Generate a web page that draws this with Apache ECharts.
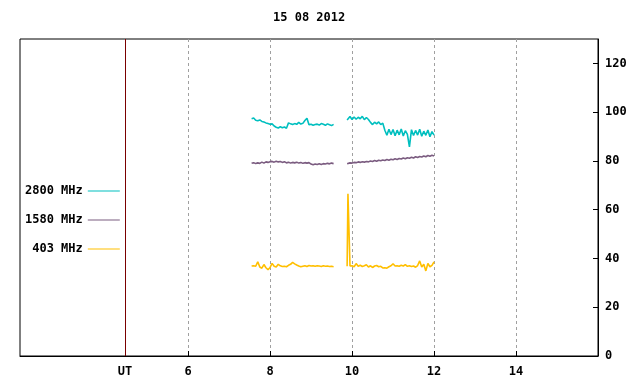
<!DOCTYPE html>
<html>
<head>
<meta charset="utf-8">
<script src="https://cdn.jsdelivr.net/npm/echarts@6/dist/echarts.min.js"></script>
<style>html,body{margin:0;padding:0;background:#fff}#c{width:640px;height:384px}</style>
</head>
<body>
<div id="c"></div>
<script>
const titleText = '15 08 2012';
const seriesNames = ['2800 MHz', '1580 MHz', '403 MHz'];
const xTickValues = [6, 8, 10, 12, 14];
const utPosition = 4.46;
const yTickValues = [0, 20, 40, 60, 80, 100, 120];

const times1 = [7.55,7.60,7.65,7.70,7.75,7.80,7.85,7.90,7.95,
  8.00,8.05,8.10,8.15,8.20,8.25,8.30,8.35,8.40,8.45,8.50,8.55,8.60,8.65,8.70,8.75,8.80,8.85,8.90,8.95,
  9.00,9.05,9.10,9.15,9.20,9.25,9.30,9.35,9.40,9.45,9.50,9.55];
const times2 = [9.88,9.90,9.95,
  10.00,10.05,10.10,10.15,10.20,10.25,10.30,10.35,10.40,10.45,10.50,10.55,10.60,10.65,10.70,10.75,10.80,10.85,10.90,10.95,
  11.00,11.05,11.10,11.15,11.20,11.25,11.30,11.35,11.40,11.45,11.50,11.55,11.60,11.65,11.70,11.75,11.80,11.85,11.90,11.95,
  12.00];

const mhz2800a = [97.3,97.6,96.7,96.5,96.8,96.2,96.0,95.6,95.3,
  95.0,95.2,94.3,93.8,93.5,94.0,93.6,93.9,93.4,95.6,95.2,94.9,95.3,95.0,95.8,95.1,95.4,96.6,97.5,94.8,
  95.0,94.6,94.9,95.1,94.7,95.3,95.0,94.6,95.2,94.8,94.5,95.0];
const mhz2800b = [96.8,97.4,98.2,
  97.0,98.0,97.1,97.9,97.3,98.3,96.9,97.8,97.0,95.8,94.9,95.9,95.2,96.0,94.9,95.5,92.6,90.5,93.0,90.8,
  92.9,90.3,92.6,90.7,93.1,90.2,92.4,90.9,85.8,92.8,90.4,92.5,90.6,93.0,90.1,92.2,90.5,92.7,89.9,92.0,
  90.6];

const mhz1580a = [79.0,79.3,78.9,79.2,79.0,79.5,79.1,79.6,79.4,
  79.7,79.8,79.5,79.9,79.6,79.8,79.4,79.7,79.2,79.5,79.1,79.4,79.2,79.5,79.1,79.4,79.0,79.3,79.1,79.3,
  78.7,78.4,78.7,78.5,78.8,78.5,78.9,78.7,79.0,78.8,79.1,78.9];
const mhz1580b = [78.8,79.0,79.2,
  79.1,79.4,79.3,79.6,79.4,79.7,79.5,79.8,79.6,80.0,79.8,80.2,79.9,80.3,80.1,80.4,80.2,80.6,80.3,80.7,
  80.5,80.9,80.6,81.0,80.8,81.2,80.9,81.3,81.1,81.5,81.2,81.7,81.4,81.8,81.6,82.0,81.7,82.2,81.9,82.3,
  82.0];

const mhz403a = [36.9,37.0,36.8,38.6,36.5,36.0,37.5,36.2,35.4,
  36.3,38.0,36.8,36.5,37.6,37.0,36.7,36.8,36.6,37.2,37.6,38.4,37.8,37.3,36.9,36.6,36.8,37.0,36.7,37.1,
  36.9,37.0,36.8,37.0,36.9,36.7,37.0,36.8,36.9,36.7,36.8,36.6];
const mhz403b = [36.8,66.5,36.9,
  37.0,36.6,37.9,36.8,37.2,36.7,37.0,37.4,36.5,37.0,36.3,36.9,37.1,36.6,36.8,36.1,36.2,36.0,36.6,37.0,
  37.8,36.9,37.0,36.8,37.2,36.9,37.5,36.8,37.0,36.7,36.9,36.4,37.1,39.0,36.5,37.6,34.9,38.0,36.6,37.2,
  38.6];

const colors = ['#00bfbf', '#7b5c80', '#ffbf00'];
const FONT = 'DejaVu Sans Mono';

function build(a, b) {
  const out = times1.map((t, i) => [t, a[i]]);
  out.push([9.7, '-']);
  return out.concat(times2.map((t, i) => [t, b[i]]));
}
const seriesData = [build(mhz2800a, mhz2800b), build(mhz1580a, mhz1580b), build(mhz403a, mhz403b)];

const chart = echarts.init(document.getElementById('c'), null, {renderer: 'canvas'});
const txt = {fontFamily: FONT, fontSize: 12, fontWeight: 'bold', color: '#000'};

chart.setOption({
  animation: false,
  backgroundColor: '#fff',
  title: {
    text: titleText, left: 273, top: 12, padding: 0,
    textStyle: Object.assign({}, txt)
  },
  legend: {
    orient: 'vertical', left: 20, top: 180, align: 'right',
    itemWidth: 32, itemHeight: 1, itemGap: 17, icon: 'rect',
    formatter: n => n.padStart(8, ' '),
    textStyle: Object.assign({}, txt),
    data: seriesNames
  },
  grid: {left: 20, right: 42, top: 39, bottom: 28, show: true, borderColor: '#000', borderWidth: 1, containLabel: false},
  xAxis: {
    type: 'value', min: 1.9, max: 16.0,
    axisLine: {show: true, lineStyle: {color: '#000', width: 1}},
    axisTick: {show: true, inside: true, length: 5, customValues: xTickValues, lineStyle: {color: '#000'}},
    axisLabel: {
      customValues: [utPosition].concat(xTickValues), margin: 10,
      formatter: v => (v < 5 ? 'UT' : String(v)),
      fontFamily: FONT, fontSize: 12, fontWeight: 'bold', color: '#000'
    },
    splitLine: {show: true, lineStyle: {color: '#a0a0a0', type: [3, 3], width: 1}}
  },
  yAxis: {
    type: 'value', position: 'right', min: 0, max: 130,
    axisLine: {show: true, lineStyle: {color: '#000', width: 1}},
    axisTick: {show: true, inside: true, length: 5, customValues: yTickValues, lineStyle: {color: '#000'}},
    axisLabel: {customValues: yTickValues, margin: 7, fontFamily: FONT, fontSize: 12, fontWeight: 'bold', color: '#000'},
    splitLine: {show: false}
  },
  series: seriesNames.map((name, i) => {
    const s = {
      name: name, type: 'line', data: seriesData[i], showSymbol: false, symbol: 'none',
      connectNulls: false, color: colors[i], lineStyle: {width: 1.6, color: colors[i]}, z: 3 + i
    };
    if (i === 0) {
      s.markLine = {
        silent: true, symbol: 'none', label: {show: false},
        lineStyle: {color: '#7a0000', type: 'solid', width: 1},
        data: [{xAxis: utPosition}]
      };
    }
    return s;
  })
});
</script>
</body>
</html>
